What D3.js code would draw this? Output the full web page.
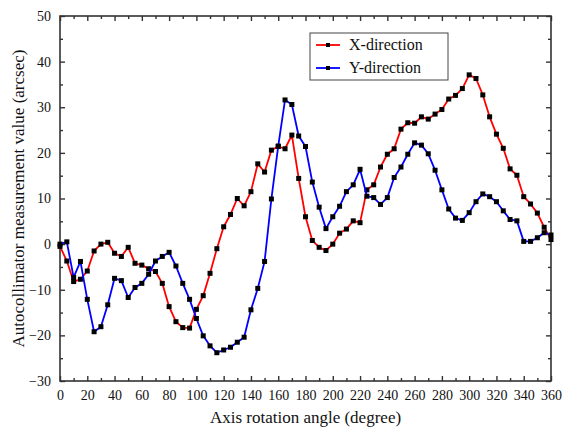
<!DOCTYPE html>
<html>
<head>
<meta charset="utf-8">
<script src="https://cdn.jsdelivr.net/npm/d3@7"></script>
<style>
  html, body { margin: 0; padding: 0; background: #fff; }
  svg { display: block; }
</style>
</head>
<body>
<svg id="chart" width="563" height="430"></svg>
<script>
// Rotation angles, one reading every 5 degrees
const angles = d3.range(0, 361, 5);

// X-direction readings (arcsec)
const xDirection = [
  -0.5, -3.7, -8.2, -7.7, -5.9, -1.5, 0.0, 0.4, -2.0, -2.7,
  -0.7, -4.2, -4.6, -5.4, -6.0, -8.6, -13.7, -17.0, -18.3, -18.4,
  -14.3, -11.3, -6.4, -1.0, 3.8, 6.5, 10.0, 8.4, 11.5, 17.6,
  15.8, 20.6, 21.4, 20.9, 23.9, 14.4, 6.0, 0.8, -0.7, -1.4,
  0.0, 2.4, 3.3, 5.1, 4.7, 11.9, 13.0, 16.9, 19.7, 20.9,
  25.2, 26.6, 26.5, 27.9, 27.4, 28.5, 29.5, 31.8, 32.6, 34.1,
  37.1, 36.3, 32.7, 27.9, 24.1, 21.0, 16.5, 15.1, 10.4, 8.8,
  6.8, 3.7, 1.0
];

// Y-direction readings (arcsec)
const yDirection = [
  0.0, 0.5, -7.3, -3.8, -12.1, -19.2, -18.1, -13.3, -7.5, -8.0,
  -11.7, -9.5, -8.6, -6.6, -3.7, -2.7, -1.8, -4.8, -8.6, -12.1,
  -16.3, -20.1, -22.3, -23.8, -23.2, -22.6, -21.5, -20.4, -14.4, -9.7,
  -3.8, 9.9, 21.5, 31.6, 30.6, 23.7, 21.4, 13.6, 8.1, 3.4,
  6.0, 8.3, 11.5, 13.0, 16.4, 10.5, 10.2, 8.7, 10.2, 14.6,
  16.9, 19.7, 22.2, 21.7, 19.8, 16.2, 11.9, 7.7, 5.7, 5.2,
  6.9, 9.3, 11.0, 10.4, 9.3, 7.3, 5.4, 5.1, 0.6, 0.6,
  1.4, 2.5, 2.0
];

const seriesNames = ["X-direction", "Y-direction"];
const seriesColors = ["#ff0000", "#0000ff"];

const xTicks = d3.range(0, 361, 20);
const xMinorTicks = d3.range(10, 360, 20);
const yTicks = d3.range(-30, 51, 10);
const yMinorTicks = d3.range(-25, 50, 10);

const xLabel = "Axis rotation angle (degree)";
const yLabel = "Autocollimator measurement value (arcsec)";

const svg = d3.select("#chart");
const font = "'Liberation Serif', 'Times New Roman', serif";

const plot = { left: 60, right: 551, top: 16, bottom: 381 };

const x = d3.scaleLinear().domain([0, 360]).range([plot.left, plot.right]);
const y = d3.scaleLinear().domain([-30, 50]).range([plot.bottom, plot.top]);

const axisColor = "#333";
const major = 5, minor = 3;

// Axes with inward ticks on all four sides
function styleAxis(g) {
  g.select(".domain").remove();
  g.selectAll(".tick line").attr("stroke", axisColor).attr("stroke-width", 1.4);
}

svg.append("g")
  .attr("transform", `translate(0,${plot.bottom})`)
  .call(d3.axisBottom(x).tickValues(xTicks).tickSize(-major).tickPadding(9)
    .tickFormat(d3.format("d")))
  .call(styleAxis)
  .call(g => g.selectAll("text").attr("font-family", font).attr("font-size", 14).attr("fill", "#111"));

svg.append("g")
  .attr("transform", `translate(0,${plot.bottom})`)
  .call(d3.axisBottom(x).tickValues(xMinorTicks).tickSize(-minor).tickFormat(""))
  .call(styleAxis);

svg.append("g")
  .attr("transform", `translate(0,${plot.top})`)
  .call(d3.axisTop(x).tickValues(xTicks).tickSize(-major).tickFormat(""))
  .call(styleAxis);

svg.append("g")
  .attr("transform", `translate(0,${plot.top})`)
  .call(d3.axisTop(x).tickValues(xMinorTicks).tickSize(-minor).tickFormat(""))
  .call(styleAxis);

svg.append("g")
  .attr("transform", `translate(${plot.left},0)`)
  .call(d3.axisLeft(y).tickValues(yTicks).tickSize(-major).tickPadding(9)
    .tickFormat(d3.format("d")))
  .call(styleAxis)
  .call(g => g.selectAll("text").attr("font-family", font).attr("font-size", 14).attr("fill", "#111"));

svg.append("g")
  .attr("transform", `translate(${plot.left},0)`)
  .call(d3.axisLeft(y).tickValues(yMinorTicks).tickSize(-minor).tickFormat(""))
  .call(styleAxis);

svg.append("g")
  .attr("transform", `translate(${plot.right},0)`)
  .call(d3.axisRight(y).tickValues(yTicks).tickSize(-major).tickFormat(""))
  .call(styleAxis);

svg.append("g")
  .attr("transform", `translate(${plot.right},0)`)
  .call(d3.axisRight(y).tickValues(yMinorTicks).tickSize(-minor).tickFormat(""))
  .call(styleAxis);

// Plot frame
svg.append("rect")
  .attr("x", plot.left).attr("y", plot.top)
  .attr("width", plot.right - plot.left).attr("height", plot.bottom - plot.top)
  .attr("fill", "none").attr("stroke", axisColor).attr("stroke-width", 1.6);

// Data series: line plus square markers
const seriesData = [xDirection, yDirection];
const line = d3.line().x((d, i) => x(angles[i])).y(d => y(d));

seriesData.forEach((vals, s) => {
  const g = svg.append("g");
  g.append("path")
    .datum(vals)
    .attr("d", line)
    .attr("fill", "none")
    .attr("stroke", seriesColors[s])
    .attr("stroke-width", 1.8)
    .attr("stroke-linejoin", "round");
  g.selectAll("rect")
    .data(vals)
    .join("rect")
    .attr("x", (d, i) => x(angles[i]) - 2.5)
    .attr("y", d => y(d) - 2.5)
    .attr("width", 5).attr("height", 5)
    .attr("fill", "#000");
});

// Legend
const legend = svg.append("g").attr("transform", "translate(310,33)");
legend.append("rect")
  .attr("width", 138).attr("height", 47)
  .attr("fill", "#fff").attr("stroke", "#444").attr("stroke-width", 1);
seriesNames.forEach((name, i) => {
  const ly = 12 + i * 23;
  legend.append("line")
    .attr("x1", 6).attr("x2", 30).attr("y1", ly).attr("y2", ly)
    .attr("stroke", seriesColors[i]).attr("stroke-width", 1.8);
  legend.append("rect")
    .attr("x", 18 - 2).attr("y", ly - 2).attr("width", 4).attr("height", 4)
    .attr("fill", "#000");
  legend.append("text")
    .attr("x", 39).attr("y", ly + 5)
    .attr("font-family", font).attr("font-size", 16).attr("fill", "#111")
    .text(name);
});

// Axis titles
svg.append("text")
  .attr("x", (plot.left + plot.right) / 2).attr("y", 423)
  .attr("text-anchor", "middle")
  .attr("font-family", font).attr("font-size", 17).attr("fill", "#111")
  .text(xLabel);

svg.append("text")
  .attr("transform", `translate(24,${(plot.top + plot.bottom) / 2}) rotate(-90)`)
  .attr("text-anchor", "middle")
  .attr("font-family", font).attr("font-size", 17).attr("fill", "#111")
  .text(yLabel);
</script>
</body>
</html>
